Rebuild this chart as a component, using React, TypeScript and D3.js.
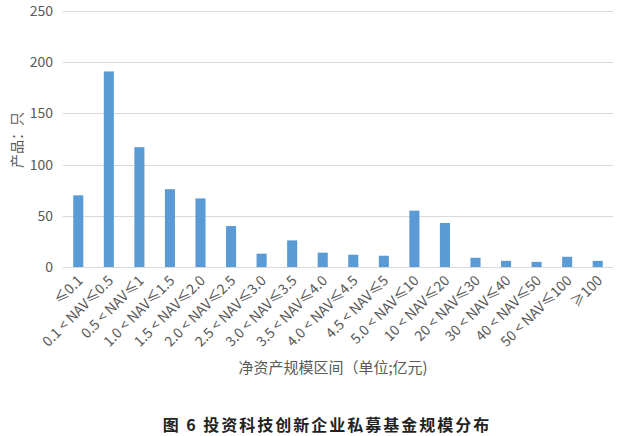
import { useEffect, useRef } from 'react'
import * as d3 from 'd3'

const categories = [
  '≤0.1', '0.1 < NAV≤0.5', '0.5 < NAV≤1', '1.0 < NAV≤1.5', '1.5 < NAV≤2.0',
  '2.0 < NAV≤2.5', '2.5 < NAV≤3.0', '3.0 < NAV≤3.5', '3.5 < NAV≤4.0',
  '4.0 < NAV≤4.5', '4.5 < NAV≤5', '5.0 < NAV≤10', '10 < NAV≤20',
  '20 < NAV≤30', '30 < NAV≤40', '40 < NAV≤50', '50 < NAV≤100', '≥100',
]
const counts = [70, 191, 117, 76, 67, 40, 13, 26, 14, 12, 11, 55, 43, 9, 6, 5, 10, 6]
const yTicks = [0, 50, 100, 150, 200, 250]

const yTitle = '产品：只'
const xTitle = '净资产规模区间（单位;亿元)'
const chartTitle = '图 6 投资科技创新企业私募基金规模分布'

const FONT = '"Noto Sans CJK SC", "Noto Sans", sans-serif'

export default function App() {
  const svgRef = useRef<SVGSVGElement>(null)

  useEffect(() => {
    document.body.style.margin = '0'
    if (!svgRef.current) return

    const svg = d3.select(svgRef.current)
    svg.selectAll('*').remove()

    const W = 622
    const H = 436
    const margin = { top: 11, right: 9, bottom: 169, left: 63 }

    svg.attr('width', W).attr('height', H).style('background', '#fff')

    const x = d3.scaleBand()
      .domain(categories)
      .range([margin.left, W - margin.right])
      .paddingInner(0.67)
      .paddingOuter(0.335)

    const y = d3.scaleLinear()
      .domain([0, 250])
      .range([H - margin.bottom, margin.top])

    // gridlines
    svg.append('g')
      .selectAll('line')
      .data(yTicks)
      .enter().append('line')
      .attr('x1', margin.left)
      .attr('x2', W - margin.right)
      .attr('y1', d => Math.round(y(d)) + 0.5)
      .attr('y2', d => Math.round(y(d)) + 0.5)
      .attr('stroke', '#d9d9d9')
      .attr('stroke-width', 1)

    // y tick labels
    svg.append('g')
      .selectAll('text')
      .data(yTicks)
      .enter().append('text')
      .attr('x', 53)
      .attr('y', d => y(d))
      .attr('dy', '0.35em')
      .attr('text-anchor', 'end')
      .style('font-family', FONT)
      .style('font-size', '14px')
      .style('fill', '#595959')
      .text(d => d)

    // bars
    svg.append('g')
      .selectAll('rect')
      .data(counts)
      .enter().append('rect')
      .attr('x', (d, i) => x(categories[i]) as number)
      .attr('y', d => y(d))
      .attr('width', x.bandwidth())
      .attr('height', d => y(0) - y(d))
      .attr('fill', '#5b9bd5')

    // x tick labels
    svg.append('g')
      .selectAll('text')
      .data(categories)
      .enter().append('text')
      .attr('transform', d => `translate(${(x(d) as number) + x.bandwidth() / 2 + 2},${y(0) + 11}) rotate(-45)`)
      .attr('dy', '0.35em')
      .attr('text-anchor', 'end')
      .style('font-family', FONT)
      .style('font-size', '14px')
      .style('fill', '#595959')
      .text(d => d)

    // axis titles
    svg.append('text')
      .attr('transform', `translate(17,140) rotate(-90)`)
      .attr('dy', '0.35em')
      .attr('text-anchor', 'middle')
      .style('font-family', FONT)
      .style('font-size', '14px')
      .style('fill', '#595959')
      .text(yTitle)

    svg.append('text')
      .attr('x', 333)
      .attr('y', 368)
      .attr('dy', '0.35em')
      .attr('text-anchor', 'middle')
      .style('font-family', FONT)
      .style('font-size', '15px')
      .style('fill', '#595959')
      .text(xTitle)

    // chart title
    svg.append('text')
      .attr('x', 327)
      .attr('y', 425)
      .attr('dy', '0.35em')
      .attr('text-anchor', 'middle')
      .style('font-family', FONT)
      .style('font-size', '16px')
      .style('font-weight', 'bold')
      .style('letter-spacing', '2px')
      .style('fill', '#222')
      .text(chartTitle)
  }, [])

  return <svg ref={svgRef}></svg>
}
